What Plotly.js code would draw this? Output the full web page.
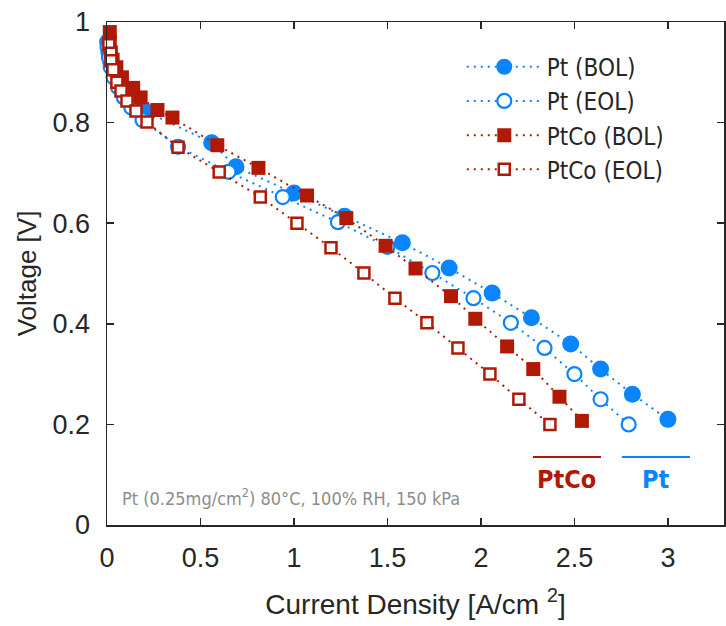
<!DOCTYPE html>
<html><head><meta charset="utf-8">
<script src="https://cdn.plot.ly/plotly-3.0.1.min.js"></script>
<style>html,body{margin:0;padding:0;background:#fff}</style>
</head><body><div id="chart" style="width:726px;height:626px"></div>
<script>
// ---- data (current density A/cm^2, voltage V) ----
const ptBolX = [0.003, 0.01, 0.02, 0.04, 0.07, 0.11, 0.16, 0.22, 0.56, 0.69, 1.00, 1.27, 1.58, 1.83, 2.06, 2.27, 2.48, 2.64, 2.81, 3.00];
const ptBolY = [0.96, 0.94, 0.92, 0.895, 0.875, 0.855, 0.835, 0.82, 0.76, 0.712, 0.66, 0.614, 0.561, 0.511, 0.461, 0.412, 0.36, 0.31, 0.26, 0.21];
const ptEolX = [0.003, 0.01, 0.02, 0.035, 0.06, 0.09, 0.13, 0.19, 0.38, 0.65, 0.94, 1.235, 1.50, 1.74, 1.96, 2.16, 2.34, 2.50, 2.64, 2.79];
const ptEolY = [0.95, 0.93, 0.91, 0.89, 0.87, 0.85, 0.83, 0.805, 0.752, 0.702, 0.652, 0.602, 0.553, 0.501, 0.451, 0.402, 0.352, 0.30, 0.25, 0.20];
const ptcoBolX = [0.015, 0.015, 0.02, 0.03, 0.05, 0.08, 0.14, 0.18, 0.27, 0.35, 0.59, 0.81, 1.07, 1.28, 1.49, 1.65, 1.84, 1.97, 2.14, 2.28, 2.42, 2.54];
const ptcoBolY = [0.98, 0.96, 0.94, 0.925, 0.91, 0.89, 0.869, 0.85, 0.825, 0.81, 0.755, 0.71, 0.655, 0.61, 0.555, 0.51, 0.455, 0.41, 0.355, 0.31, 0.255, 0.207];
const ptcoEolX = [0.01, 0.02, 0.021, 0.032, 0.053, 0.075, 0.107, 0.155, 0.214, 0.38, 0.60, 0.82, 1.016, 1.198, 1.374, 1.54, 1.711, 1.877, 2.048, 2.203, 2.369];
const ptcoEolY = [0.955, 0.938, 0.923, 0.905, 0.88, 0.863, 0.843, 0.823, 0.801, 0.751, 0.702, 0.652, 0.60, 0.551, 0.501, 0.451, 0.402, 0.352, 0.30, 0.25, 0.20];
const seriesNames = ['Pt (BOL)', 'Pt (EOL)', 'PtCo (BOL)', 'PtCo (EOL)'];
const noteText = 'Pt (0.25mg/cm<sup>2</sup>) 80°C, 100% RH, 150 kPa';

const BLUE = '#0A84FF';
const RED = '#B01A05';
const LINE = {width: 2, dash: '2px,5px'};
const FONT = '"Liberation Sans", Arial, sans-serif';
const NARROW = '"DejaVu Sans Condensed", "Liberation Sans Narrow", Arial, sans-serif';

const traces = [
  {x: ptBolX, y: ptBolY, name: seriesNames[0], mode: 'lines+markers', cliponaxis: false,
   line: Object.assign({color: BLUE}, LINE),
   marker: {symbol: 'circle', size: 17, color: BLUE}},
  {x: ptEolX, y: ptEolY, name: seriesNames[1], mode: 'lines+markers', cliponaxis: false,
   line: Object.assign({color: BLUE}, LINE),
   marker: {symbol: 'circle', size: 14, color: '#ffffff', line: {color: BLUE, width: 2.2}}},
  {x: ptcoBolX, y: ptcoBolY, name: seriesNames[2], mode: 'lines+markers', cliponaxis: false,
   line: Object.assign({color: RED}, LINE),
   marker: {symbol: 'square', size: 14, color: RED}},
  {x: ptcoEolX, y: ptcoEolY, name: seriesNames[3], mode: 'lines+markers', cliponaxis: false,
   line: Object.assign({color: RED}, LINE),
   marker: {symbol: 'square', size: 11, color: '#ffffff', line: {color: RED, width: 2.5}}}
];

const axisCommon = {
  showgrid: false, zeroline: false, showline: true, mirror: 'ticks',
  linecolor: '#262626', linewidth: 1.5, ticks: 'inside', ticklen: 7, tickwidth: 1.5,
  tickcolor: '#262626', tickfont: {family: FONT, size: 27, color: '#262626'}
};

const layout = {
  width: 726, height: 626,
  margin: {l: 107, r: 2, t: 22, b: 101},
  paper_bgcolor: '#fff', plot_bgcolor: '#fff',
  showlegend: true,
  xaxis: Object.assign({}, axisCommon, {
    range: [0, 3.3], dtick: 0.5, tick0: 0, ticklabelstandoff: 8,
    title: {text: 'Current Density [A/cm <sup>2</sup>]', font: {family: FONT, size: 28, color: '#262626'}, standoff: 22}
  }),
  yaxis: Object.assign({}, axisCommon, {
    range: [0, 1], dtick: 0.2, tick0: 0, ticklabelstandoff: 10,
    title: {text: 'Voltage [V]', font: {family: FONT, size: 26, color: '#262626'}, standoff: 8}
  }),
  legend: {
    x: 0.575, y: 0.955, xanchor: 'left', yanchor: 'top',
    bgcolor: 'rgba(0,0,0,0)', itemwidth: 75,
    font: {family: NARROW, size: 24, color: '#262626'}
  },
  shapes: [
    {type: 'line', xref: 'x', yref: 'y', x0: 2.278, x1: 2.642, y0: 0.135, y1: 0.135, line: {color: RED, width: 2}},
    {type: 'line', xref: 'x', yref: 'y', x0: 2.754, x1: 3.118, y0: 0.135, y1: 0.135, line: {color: BLUE, width: 2}}
  ],
  annotations: [
    {text: '<b>PtCo</b>', x: 2.46, y: 0.09, xref: 'x', yref: 'y', showarrow: false,
     font: {family: NARROW, size: 25, color: RED}},
    {text: '<b>Pt</b>', x: 2.936, y: 0.09, xref: 'x', yref: 'y', showarrow: false,
     font: {family: NARROW, size: 25, color: BLUE}},
    {text: noteText, x: 0.07, y: 0.055, xref: 'x', yref: 'y', xanchor: 'left', showarrow: false,
     font: {family: NARROW, size: 18, color: '#8c8c8c'}}
  ]
};

Plotly.newPlot('chart', traces, layout, {staticPlot: true, displayModeBar: false});
</script></body></html>
